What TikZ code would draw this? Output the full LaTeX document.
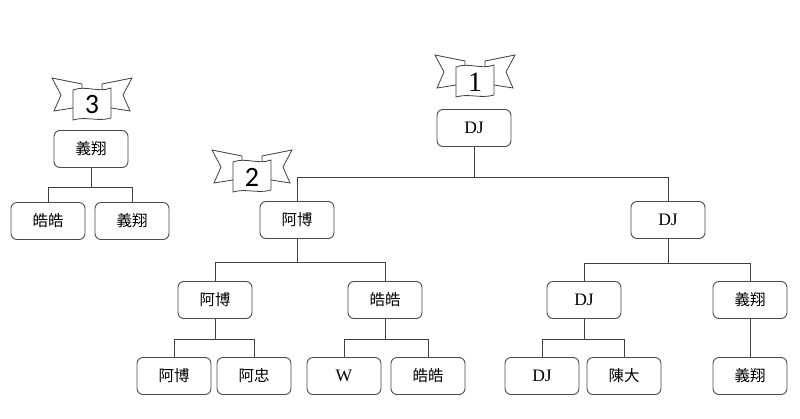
\documentclass[tikz,border=0pt]{standalone}
\usepackage{fontspec}
\usepackage{tikz}
\usetikzlibrary{positioning}
\setmainfont{Liberation Serif}
\newfontfamily\cjk{Noto Sans CJK TC}
\newfontfamily\numfont{Carlito}

% ribbon with a number: x, y, font, number
\newcommand{\banner}[4]{%
\begin{scope}[shift={(#1,#2)}, line width=0.8pt, draw=black!75]
\draw[fill=white] (-19,5) -- (-38,8) -- (-31,-8) -- (-40,-25) -- (-10,-19) -- (-10,-12) -- cycle;
\draw[fill=white] (19,5) -- (38,8) -- (31,-8) -- (40,-25) -- (10,-19) -- (10,-12) -- cycle;
\draw[fill=white] (-19,-13) .. controls (-6,-18) and (6,-10) .. (19,-15) -- (19,15) .. controls (6,19) and (-6,13) .. (-19,17) -- cycle;
\node[font=#3] at (0,2) {#4};
\end{scope}}

\begin{document}
\begin{tikzpicture}[x=1pt, y=-1pt,
  person/.style={draw=black!70, line width=0.9pt, rounded corners=6pt, fill=white,
    minimum width=74pt, minimum height=37pt, inner sep=0pt, font=\fontsize{15.5}{15.5}\selectfont\cjk},
  latin/.style={person, font=\fontsize{17.5}{17.5}\selectfont},
  link/.style={draw=black!75, line width=0.9pt}]
\useasboundingbox (0,0) rectangle (800,418);

% Ribbons
\banner{475}{80}{\fontsize{28}{28}\selectfont}{1}
\banner{252}{175}{\fontsize{28}{28}\selectfont\numfont}{2}
\banner{92}{103}{\fontsize{28}{28}\selectfont\numfont}{3}

% Main tree
\node[latin] (root) at (474,128) {DJ};
\node[person] (abo) at (297,220) {阿博};
\node[latin] (dj) at (668,220) {DJ};

\node[person] (abo2) at (215,300) {阿博};
\node[person] (haohao) at (385,300) {皓皓};
\node[latin] (dj2) at (584,300) {DJ};
\node[person] (yixiang) at (750,300) {義翔};

\node[person] (abo3) at (174,376) {阿博};
\node[person] (azhong) at (254,376) {阿忠};
\node[latin] (w) at (344,376) {W};
\node[person] (haohao2) at (428,376) {皓皓};
\node[latin] (dj3) at (542,376) {DJ};
\node[person] (chenda) at (624,376) {陳大};
\node[person] (yixiang2) at (750,376) {義翔};

% Small tree
\node[person] (yx) at (91,149) {義翔};
\node[person] (hh) at (48,221) {皓皓};
\node[person] (yx2) at (132,221) {義翔};

% Links
\draw[link] (root.south) -- ++(0,30) coordinate (j1);
\draw[link] (abo.north) |- (j1) -| (dj.north);
\draw[link] (abo.south) -- ++(0,23) coordinate (j2);
\draw[link] (abo2.north) |- (j2) -| (haohao.north);
\draw[link] (dj.south) -- ++(0,24) coordinate (j3);
\draw[link] (dj2.north) |- (j3) -| (yixiang.north);
\draw[link] (abo2.south) -- ++(0,20) coordinate (j4);
\draw[link] (abo3.north) |- (j4) -| (azhong.north);
\draw[link] (haohao.south) -- ++(0,20) coordinate (j5);
\draw[link] (w.north) |- (j5) -| (haohao2.north);
\draw[link] (dj2.south) -- ++(0,20) coordinate (j6);
\draw[link] (dj3.north) |- (j6) -| (chenda.north);
\draw[link] (yixiang) -- (yixiang2);
\draw[link] (yx.south) -- ++(0,19) coordinate (j7);
\draw[link] (hh.north) |- (j7) -| (yx2.north);
\end{tikzpicture}
\end{document}
